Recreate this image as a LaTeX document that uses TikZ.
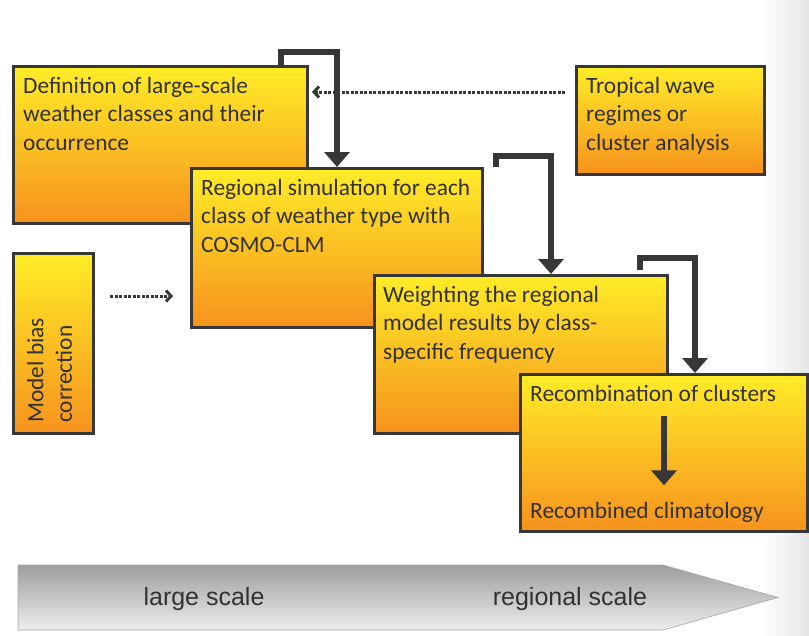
\documentclass[tikz,border=0pt]{standalone}
\usepackage{fontspec}
\setmainfont{Carlito}
\newfontfamily\barfont{Liberation Sans}
\usetikzlibrary{positioning,arrows.meta}

\definecolor{boxtop}{RGB}{255,236,40}
\definecolor{boxbot}{RGB}{246,146,30}
\definecolor{boxline}{RGB}{55,55,55}
\definecolor{inktext}{RGB}{50,50,50}

\begin{document}
\begin{tikzpicture}[x=1pt, y=-1pt,
    stage/.style={rectangle, draw=boxline, line width=3pt, top color=boxtop, bottom color=boxbot, anchor=north west, inner sep=0pt},
    txt/.style={anchor=north west, align=left, inner sep=0pt, text=inktext, font=\fontsize{23.4}{28.5}\selectfont},
    flow/.style={draw=boxline, line width=6.5pt, line join=miter, -{Triangle[width=25pt,length=15pt]}},
    dotflow/.style={draw=boxline, line width=3pt, dash pattern=on 3pt off 1.5pt, -{Straight Barb[length=5pt,width=11pt]}},
    scalebar/.style={draw=black!35, line width=0.6pt, top color=black!38, bottom color=black!7},
    scaletxt/.style={inner sep=0pt, text=inktext, font=\barfont\fontsize{25}{30}\selectfont}]

\useasboundingbox[fill=white] (0,0) rectangle (809,635);
\fill[left color=white, right color=black!10] (760,0) rectangle (809,635);

% Weather classes and tropical regimes (top)
\node[stage, minimum width=294pt, minimum height=157pt] (def) at (12,65) {};
\node[txt, below right=12pt and 11pt of def.north west] (deftext) {Definition of large-scale\\weather classes and their\\occurrence};
\node[stage, minimum width=188pt, minimum height=108pt] (trop) at (575,65) {};
\node[txt, below right=12pt and 11pt of trop.north west] (troptext) {Tropical wave\\regimes or\\cluster analysis};

% Bias correction (left)
\node[stage, minimum width=80pt, minimum height=180pt] (bias) at (12,252) {};
\node[txt, rotate=90, anchor=north west] (biastext) at ([xshift=15pt, yshift=12pt]bias.south west) {Model bias\\correction};

% Simulation, weighting, recombination
\node[stage, minimum width=291pt, minimum height=159pt] (sim) at (190,167) {};
\node[txt, below right=12pt and 11pt of sim.north west] (simtext) {Regional simulation for each\\class of weather type with\\COSMO-CLM};
\node[stage, minimum width=293pt, minimum height=158pt] (wgt) at (373,274) {};
\node[txt, below right=12pt and 10pt of wgt.north west] (wgttext) {Weighting the regional\\model results by class-\\specific frequency};
\node[stage, minimum width=287pt, minimum height=157pt] (rec) at (519,373) {};
\node[txt, below right=12pt and 11pt of rec.north west] (reca) {Recombination of clusters};
\node[txt, above right=10pt and 11pt of rec.south west] (recb) {Recombined climatology};

% Connections
\draw[flow] ([xshift=-28pt]def.north east) -- ++(0,-13) -| (sim.north);
\draw[flow] ([xshift=12pt]sim.north east) -- ++(0,-11) -| ([xshift=178pt]wgt.north west);
\draw[flow] ([xshift=-29pt, yshift=4pt]wgt.north east) -- ++(0,-12) -| ([xshift=176pt]rec.north west);
\draw[flow] ([yshift=-14pt]reca.south -| rec.center) -- ([yshift=17pt]recb.north -| rec.center);

\draw[dotflow] ([shift={(-10pt,-27pt)}]trop.north west) -- ([shift={(3pt,-27pt)}]def.north east);
\draw[dotflow] ([shift={(15pt,-44pt)}]bias.north east) coordinate (biasout) -- ([xshift=-17pt]biasout -| sim.west);

% Scale bar
\path[scalebar] (18,565) -- (663,565) -- (778,597.5) -- (663,630) -- (18,630) -- cycle;
\node[scaletxt] (large) at (204,599) {large scale};
\node[scaletxt] (regional) at (570,599) {regional scale};

\end{tikzpicture}
\end{document}
